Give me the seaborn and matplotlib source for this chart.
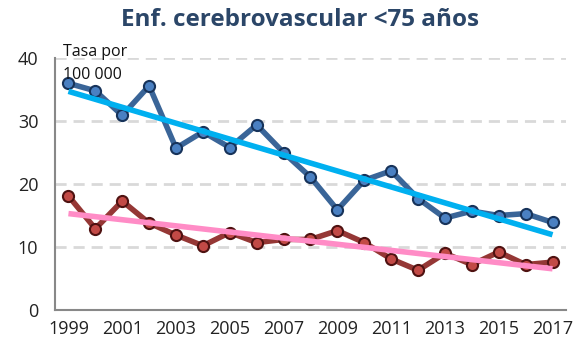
import numpy as np
import pandas as pd
import matplotlib
matplotlib.use("Agg")
import matplotlib.pyplot as plt
import seaborn as sns

years = list(range(1999, 2018))
hombres = [36.0, 34.8, 30.9, 35.6, 25.7, 28.3, 25.8, 29.4, 25.0, 21.1,
           15.9, 20.6, 22.1, 17.7, 14.6, 15.7, 15.0, 15.3, 13.9]
mujeres = [18.1, 12.9, 17.3, 13.8, 11.9, 10.2, 12.3, 10.7, 11.2, 11.2,
           12.6, 10.7, 8.1, 6.3, 9.0, 7.2, 9.2, 7.2, 7.6]
year_labels = [str(y) for y in years[::2]]

title = "Enf. cerebrovascular <75 años"
unit_label = "Tasa por\n100 000"

sns.set_theme(style="white")
plt.rcParams["font.family"] = ["Open Sans", "DejaVu Sans"]

df = pd.DataFrame({"idx": np.arange(len(years)), "year": years,
                   "hombres": hombres, "mujeres": mujeres})

fig = plt.figure(figsize=(5.79, 3.38), dpi=100)
ax = fig.add_axes([0.095, 0.083, 0.8825, 0.745])

series = [
    ("hombres", "#3A6598", "#4A80C2", "#17335A", "#00B0F0"),
    ("mujeres", "#953735", "#C24A46", "#4F1211", "#FF8CC6"),
]
for col, line_c, face_c, edge_c, trend_c in series:
    sns.lineplot(data=df, x="idx", y=col, ax=ax, color=line_c, lw=4,
                 marker="o", markersize=8, markerfacecolor=face_c,
                 markeredgecolor=edge_c, markeredgewidth=1.5, zorder=3)
    sns.regplot(data=df, x="idx", y=col, ax=ax, scatter=False, ci=None,
                color=trend_c, line_kws={"lw": 4, "zorder": 4,
                                         "solid_capstyle": "butt"})

ax.set_xlim(-0.5, len(years) - 0.5)
ax.set_ylim(0, 40)
ax.set_yticks([0, 10, 20, 30, 40])
ax.yaxis.grid(True, color="#D9D9D9", lw=2, ls=(0, (4, 2.5)))
ax.set_axisbelow(True)

ax.set_xticks(np.arange(0, len(years), 2))
ax.set_xticklabels(year_labels)
ax.set_xticks(np.arange(-0.5, len(years)), minor=True)
ax.tick_params(axis="x", which="major", length=0, pad=7, labelsize=13,
               colors="#222222")
ax.tick_params(axis="x", which="minor", length=5, width=1, color="#888888",
               direction="out")
ax.tick_params(axis="y", length=0, pad=12, labelsize=13, colors="#222222")
ax.set_xlabel("")
ax.set_ylabel("")

for s in ["top", "right"]:
    ax.spines[s].set_visible(False)
for s in ["left", "bottom"]:
    ax.spines[s].set_color("#888888")
    ax.spines[s].set_linewidth(1.5)

ax.text(0.015, 1.055, unit_label, transform=ax.transAxes, fontsize=11.5,
        va="top", ha="left", color="#111111", linespacing=1.6)

fig.text(0.518, 0.94, title, ha="center", va="center", fontsize=17.5,
         fontweight="bold", color="#2B4668")

fig.savefig("out.png", dpi=100)
